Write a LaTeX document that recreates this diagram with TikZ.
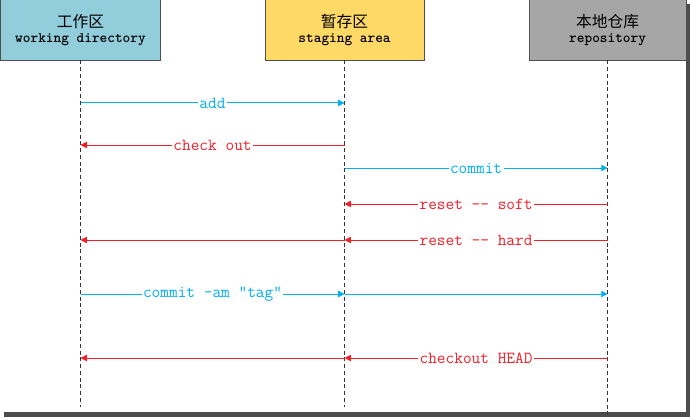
\documentclass[tikz,border=0pt]{standalone}
\usepackage{fontspec}
\newfontfamily\cjk{Noto Sans CJK SC}
\usetikzlibrary{arrows.meta,positioning}
\definecolor{wdfill}{RGB}{146,205,220}
\definecolor{stfill}{RGB}{255,217,102}
\definecolor{rpfill}{RGB}{166,166,166}
\definecolor{boxline}{RGB}{80,80,80}
\definecolor{cblue}{RGB}{0,176,240}
\definecolor{cred}{RGB}{245,30,40}

\begin{document}
\begin{tikzpicture}[
    x=0.025cm, y=0.025cm,
    node distance=0.4cm and 2.6cm,
    area/.style={rectangle, draw=boxline, line width=0.7pt, minimum height=1.5cm,
                 minimum width=3.975cm, align=center, inner sep=0pt},
    life/.style={line width=0.7pt, black!80, dash pattern=on 2.8pt off 2pt},
    push/.style={cblue, line width=0.7pt, -{Triangle[length=4.5pt,width=4.5pt]}},
    pull/.style={cred, line width=0.7pt, -{Triangle[length=4.5pt,width=4.5pt]}},
    tag/.style={fill=white, inner sep=1pt, font=\ttfamily\fontsize{12}{14}\selectfont},
    frame/.style={line width=3.5pt, black!70}
  ]
    \useasboundingbox (0,0) rectangle (691,419);
    % shadow of the window
    \draw[frame] (4,4.5) -- (688,4.5) -- (688,415);
    % the three areas
    \node[area, fill=wdfill] (wd) at (80.5,389)
      {{\cjk\fontsize{11.2}{16}\selectfont 工作区}\\[-1pt]
       {\ttfamily\bfseries\fontsize{10.4}{12}\selectfont working directory}};
    \node[area, fill=stfill, right=of wd] (st)
      {{\cjk\fontsize{11.2}{16}\selectfont 暂存区}\\[-1pt]
       {\ttfamily\bfseries\fontsize{10.4}{12}\selectfont staging area}};
    \node[area, fill=rpfill, right=of st, minimum width=3.925cm] (rp)
      {{\cjk\fontsize{11.2}{16}\selectfont 本地仓库}\\[-1pt]
       {\ttfamily\bfseries\fontsize{10.4}{12}\selectfont repository}};
    % lifelines
    \coordinate (wd-end) at (wd.south |- 0,12);
    \coordinate (st-end) at (st.south |- 0,12);
    \coordinate (rp-end) at (rp.south |- 0,5);
    \foreach \n in {wd, st, rp}
      \draw[life] (\n.south) -- (\n-end);
    % points on the lifelines
    \foreach \r/\y in {add/316, co/274, ci/251, soft/215, hard/179, cam/125, head/61} {
      \coordinate (wd-\r) at (wd.south |- 0,\y);
      \coordinate (st-\r) at (st.south |- 0,\y);
      \coordinate (rp-\r) at (rp.south |- 0,\y);
    }
    % commands
    \foreach \a/\b/\s/\t in {wd-add/st-add/push/add, st-co/wd-co/pull/check out,
        st-ci/rp-ci/push/commit, rp-soft/st-soft/pull/reset -{}- soft,
        rp-hard/st-hard/pull/reset -{}- hard, wd-cam/st-cam/push/commit -am ”tag”,
        rp-head/st-head/pull/checkout HEAD}
      \draw[\s] (\a) -- node[tag] {\t} (\b);
    \foreach \a/\b/\s in {st-hard/wd-hard/pull, st-cam/rp-cam/push, st-head/wd-head/pull}
      \draw[\s] (\a) -- (\b);
  \end{tikzpicture}
\end{document}
